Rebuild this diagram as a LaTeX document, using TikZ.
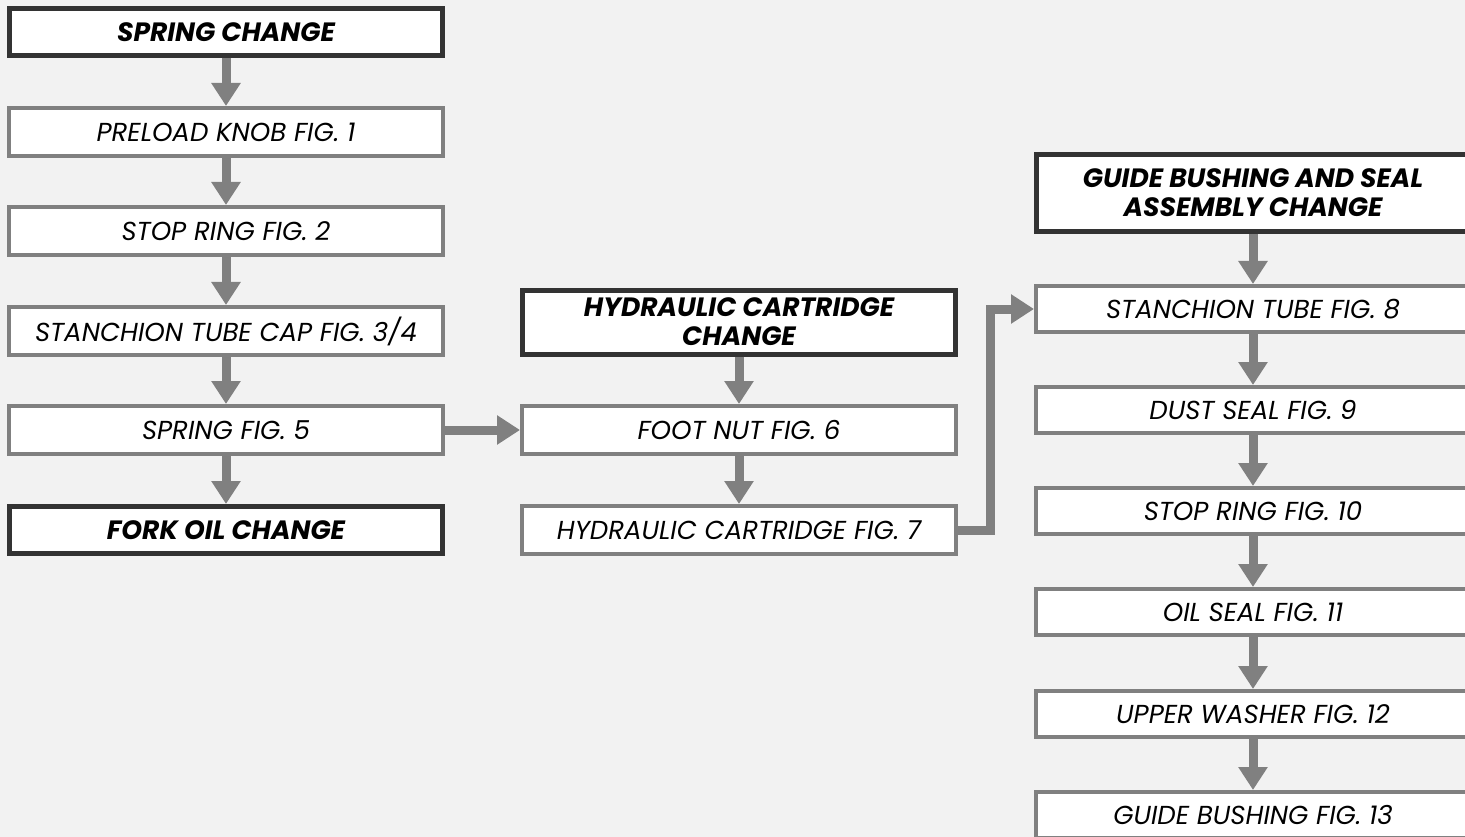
\documentclass[tikz,border=0pt]{standalone}
\usepackage{fontspec}
\setmainfont{Poppins}
\usetikzlibrary{arrows.meta}
\definecolor{bg}{HTML}{F2F2F2}
\definecolor{gr}{HTML}{808080}
\definecolor{dk}{HTML}{333333}
\begin{document}
\begin{tikzpicture}[x=1pt,y=-1pt,
  stepbox/.style={draw=gr, line width=4pt, fill=white, minimum width=434pt, minimum height=48pt, inner sep=0pt, font=\fontsize{26}{30}\selectfont\itshape},
  headbox/.style={draw=dk, line width=5pt, fill=white, minimum width=433pt, minimum height=47pt, inner sep=0pt, align=center, font=\fontsize{26.5}{29}\selectfont\bfseries\itshape},
  flow/.style={draw=gr, line width=9pt, line join=miter, -{Triangle[width=28pt,length=23pt]}},
]
\fill[bg] (0,0) rectangle (1465,837);
\clip (0,0) rectangle (1465,837);
% left column
\node[headbox] (spring) at (226,32) {SPRING CHANGE};
\node[stepbox] (preload) at (226,132) {PRELOAD KNOB FIG. 1};
\node[stepbox] (stopa) at (226,231) {STOP RING FIG. 2};
\node[stepbox] (cap) at (226,331) {STANCHION TUBE CAP FIG. 3/4};
\node[stepbox] (spr5) at (226,430) {SPRING FIG. 5};
\node[headbox] (fork) at (226,530) {FORK OIL CHANGE};
% middle column
\node[headbox, minimum height=64pt] (hyd) at (739,322) {HYDRAULIC CARTRIDGE\\CHANGE};
\node[stepbox] (foot) at (739,430) {FOOT NUT FIG. 6};
\node[stepbox] (fig7) at (739,530) {HYDRAULIC CARTRIDGE FIG. 7};
% right column
\node[headbox, minimum height=77pt] (guide) at (1253,193) {GUIDE BUSHING AND SEAL\\ASSEMBLY CHANGE};
\node[stepbox, minimum height=46pt] (fig8) at (1253,309) {STANCHION TUBE FIG. 8};
\node[stepbox, minimum height=46pt] (fig9) at (1253,410) {DUST SEAL FIG. 9};
\node[stepbox, minimum height=46pt] (fig10) at (1253,511) {STOP RING FIG. 10};
\node[stepbox, minimum height=46pt] (fig11) at (1253,612) {OIL SEAL FIG. 11};
\node[stepbox, minimum height=46pt] (fig12) at (1253,714) {UPPER WASHER FIG. 12};
\node[stepbox, minimum height=46pt] (fig13) at (1253,815) {GUIDE BUSHING FIG. 13};
% connectors
\draw[flow] (spring) -- (preload);
\draw[flow] (preload) -- (stopa);
\draw[flow] (stopa) -- (cap);
\draw[flow] (cap) -- (spr5);
\draw[flow] (spr5) -- (fork);
\draw[flow] (spr5) -- (foot);
\draw[flow] (hyd) -- (foot);
\draw[flow] (foot) -- (fig7);
\coordinate (bend) at (990,530);
\draw[flow] (fig7.east) -- (bend) |- (fig8.west);
\draw[flow] (guide) -- (fig8);
\draw[flow] (fig8) -- (fig9);
\draw[flow] (fig9) -- (fig10);
\draw[flow] (fig10) -- (fig11);
\draw[flow] (fig11) -- (fig12);
\draw[flow] (fig12) -- (fig13);
\end{tikzpicture}
\end{document}
